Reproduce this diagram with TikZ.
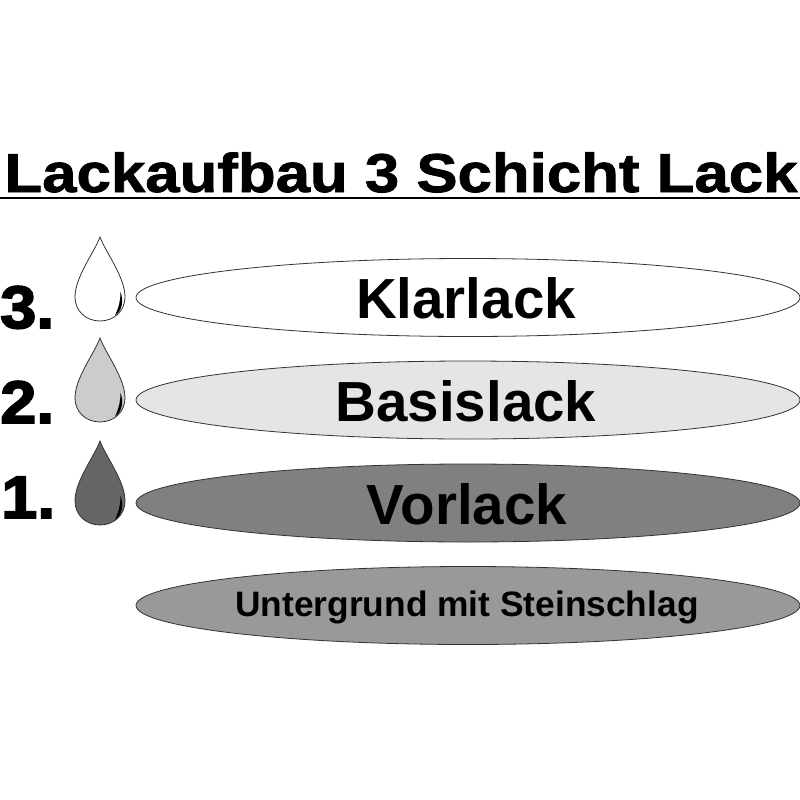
\documentclass[tikz,border=0pt]{standalone}
\usepackage{fontspec}
\setmainfont{Liberation Sans}
\newfontfamily\heavy[BoldFeatures={FakeBold=1.5,FakeStretch=1.13}]{Liberation Sans}
\newfontfamily\heavynum[BoldFeatures={FakeBold=3,FakeStretch=1.08}]{Liberation Sans}
\definecolor{lensA}{HTML}{FFFFFF}
\definecolor{lensB}{HTML}{E5E5E5}
\definecolor{lensC}{HTML}{808080}
\definecolor{lensD}{HTML}{999999}
\definecolor{dropB}{HTML}{CCCCCC}
\definecolor{dropC}{HTML}{666666}
\definecolor{edge}{HTML}{333333}
\tikzset{
 lens/.style={draw=edge,line width=0.6pt},
 lab/.style={inner sep=0pt,anchor=base,font=\bfseries\fontsize{42.4}{42}\selectfont},
 numlab/.style={inner sep=0pt,anchor=base west,font=\heavynum\bfseries\fontsize{45}{45}\selectfont},
}
\newcommand{\drop}[3]{% x center, top y (px), fill
 \begin{scope}[shift={(#1,#2)}]
 \draw[draw=edge,fill=#3,line width=0.6pt] (0,0) .. controls (6,16) and (25,40) .. (25,60)
   .. controls (25,74) and (14,84) .. (0,84)
   .. controls (-14,84) and (-25,74) .. (-25,60)
   .. controls (-25,40) and (-6,16) .. (0,0) -- cycle;
 \fill[black] (20.5,55) .. controls (24,64) and (22,74) .. (15,78.5) .. controls (19,70) and (20.5,63) .. (20.5,55) -- cycle;
 \end{scope}}
\newcommand{\lensshape}[2]{% center y, fill
 \draw[lens,fill=#2] (468,#1) ellipse [x radius=332,y radius=39];}
\begin{document}
\begin{tikzpicture}[x=0.75pt,y=-0.75pt]
\useasboundingbox (0,0) rectangle (800,800);
\fill[white] (0,0) rectangle (800,800);
\node[inner sep=0pt,anchor=base,font=\heavy\bfseries\fontsize{41}{41}\selectfont] (title) at (401,192) {Lackaufbau 3 Schicht Lack};
\draw[line width=1.5pt] (0,198) -- (800,198);
\drop{100}{237}{white}
\drop{100}{338}{dropB}
\drop{100}{441}{dropC}
\node[numlab] (n3) at (0,328) {3.};
\node[numlab] (n2) at (0,423) {2.};
\node[numlab] (n1) at (1,518) {1.};
\lensshape{297.5}{lensA}
\lensshape{400}{lensB}
\lensshape{503}{lensC}
\lensshape{605.5}{lensD}
\node[lab] (klar) at (466,318) {Klarlack};
\node[lab] (basis) at (466,421) {Basislack};
\node[lab] (vor) at (467,524) {Vorlack};
\node[lab,font=\bfseries\fontsize{26.5}{26}\selectfont] (unter) at (467,616) {Untergrund mit Steinschlag};
\end{tikzpicture}
\end{document}
